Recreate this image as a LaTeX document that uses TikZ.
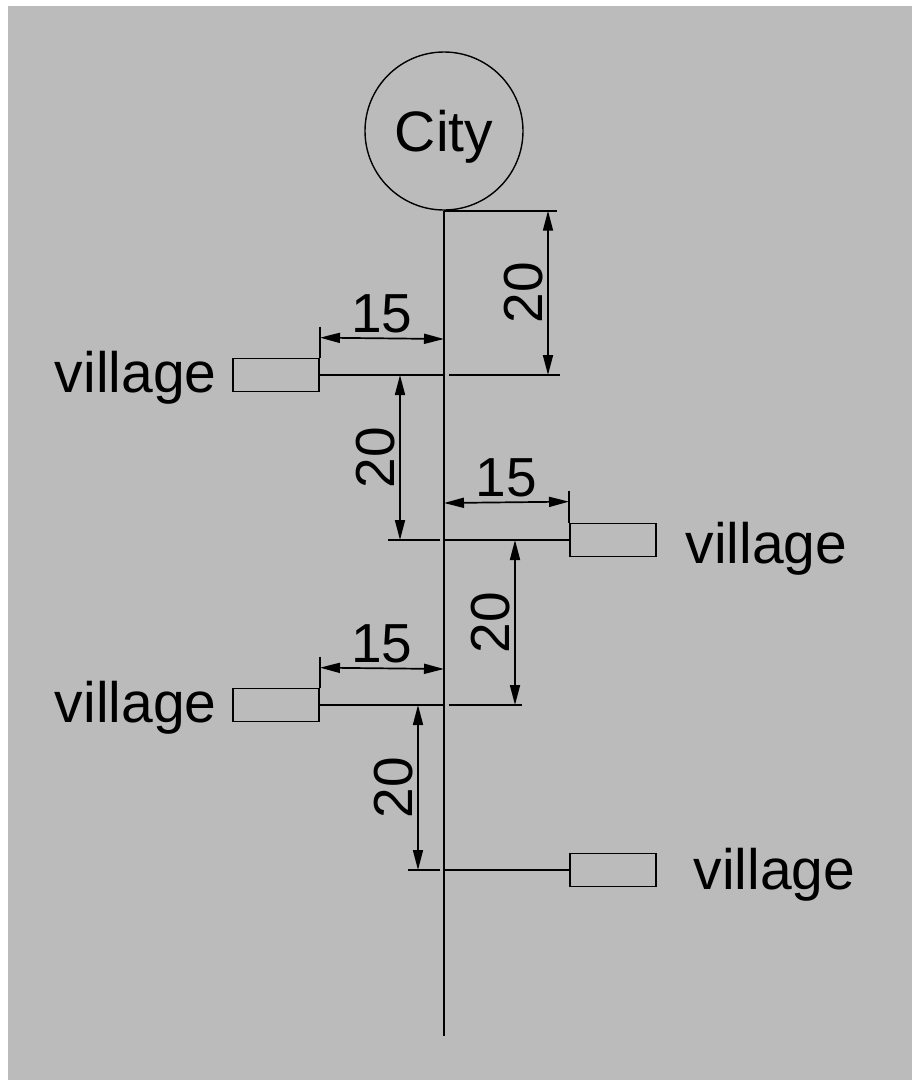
\documentclass[tikz,border=0pt]{standalone}
\usepackage{fontspec}
\setmainfont{Liberation Sans}
\usetikzlibrary{positioning,calc,arrows.meta}
\definecolor{bggray}{HTML}{BBBBBB}

\begin{document}
\begin{tikzpicture}[x=1pt, y=-1pt, line width=1.7pt,
    dim/.style={{Triangle[length=20pt,width=10pt]}-{Triangle[length=20pt,width=10pt]}},
    house/.style={draw, minimum width=86pt, minimum height=33pt, inner sep=0pt},
    lbl/.style={font=\fontsize{57}{60}\selectfont, inner sep=0pt},
    dimtxt/.style={lbl, font=\fontsize{55}{60}\selectfont, outer sep=5pt}]
    \useasboundingbox (0,0) rectangle (912,1080);
    \fill[bggray] (8,6) rectangle (912,1080);

    % city and main road
    \node[circle, draw, line width=1.4pt, minimum size=158pt, lbl, text depth=0pt] (city) at (444,131) {City};
    \coordinate (j1) at (444,375);
    \coordinate (j2) at (444,540);
    \coordinate (j3) at (444,705);
    \coordinate (j4) at (444,870);
    \coordinate (roadend) at (444,1036);
    \draw (city.south) -- (roadend);

    % villages
    \node[house, left=124pt of j1] (v1) {};
    \node[house, right=125pt of j2] (v2) {};
    \node[house, left=124pt of j3] (v3) {};
    \node[house, right=125pt of j4] (v4) {};
    \node[lbl, left=15pt of v1, yshift=-3pt] (t1) {village};
    \node[lbl, right=28pt of v2, yshift=-9pt] (t2) {village};
    \node[lbl, left=15pt of v3, yshift=-3pt] (t3) {village};
    \node[lbl, right=36pt of v4, yshift=-5pt] (t4) {village};
    \draw (v1.east) -- (j1);
    \draw (j2) -- (v2.west);
    \draw (v3.east) -- (j3);
    \draw (j4) -- (v4.west);

    % spacing 20 along the road
    \draw (city.south) -- ++(113,0);
    \draw ($(j1)+(5,0)$) -- ++(111,0);
    \draw[dim] ($(city.south)+(104,0)$) -- ($(j1)+(104,0)$)
        node[midway, dimtxt, rotate=90, anchor=south] {20};
    \draw ($(j2)+(-56,0)$) -- ($(j2)+(-4,0)$);
    \draw[dim] ($(j1)+(-44,0)$) -- ($(j2)+(-44,0)$)
        node[midway, dimtxt, rotate=90, anchor=south] {20};
    \draw ($(j3)+(5,0)$) -- ++(73,0);
    \draw[dim] ($(j2)+(71,0)$) -- ($(j3)+(71,0)$)
        node[midway, dimtxt, rotate=90, anchor=south] {20};
    \draw ($(j4)+(-36,0)$) -- ($(j4)+(-4,0)$);
    \draw[dim] ($(j3)+(-26,0)$) -- ($(j4)+(-26,0)$)
        node[midway, dimtxt, rotate=90, anchor=south] {20};

    % offset 15 from the road
    \draw ($(v1.north east)+(0,-31)$) -- (v1.north east);
    \draw[dim] ($(v1.north east)+(0,-20)$) -- ($(j1)+(0,-36)$)
        node[midway, dimtxt, anchor=south] {15};
    \draw ($(v2.north west)+(0,-32)$) -- (v2.north west);
    \draw[dim] ($(j2)+(0,-37)$) -- ($(v2.north west)+(0,-21)$)
        node[midway, dimtxt, anchor=south] {15};
    \draw ($(v3.north east)+(0,-31)$) -- (v3.north east);
    \draw[dim] ($(v3.north east)+(0,-20)$) -- ($(j3)+(0,-36)$)
        node[midway, dimtxt, anchor=south] {15};
\end{tikzpicture}
\end{document}
